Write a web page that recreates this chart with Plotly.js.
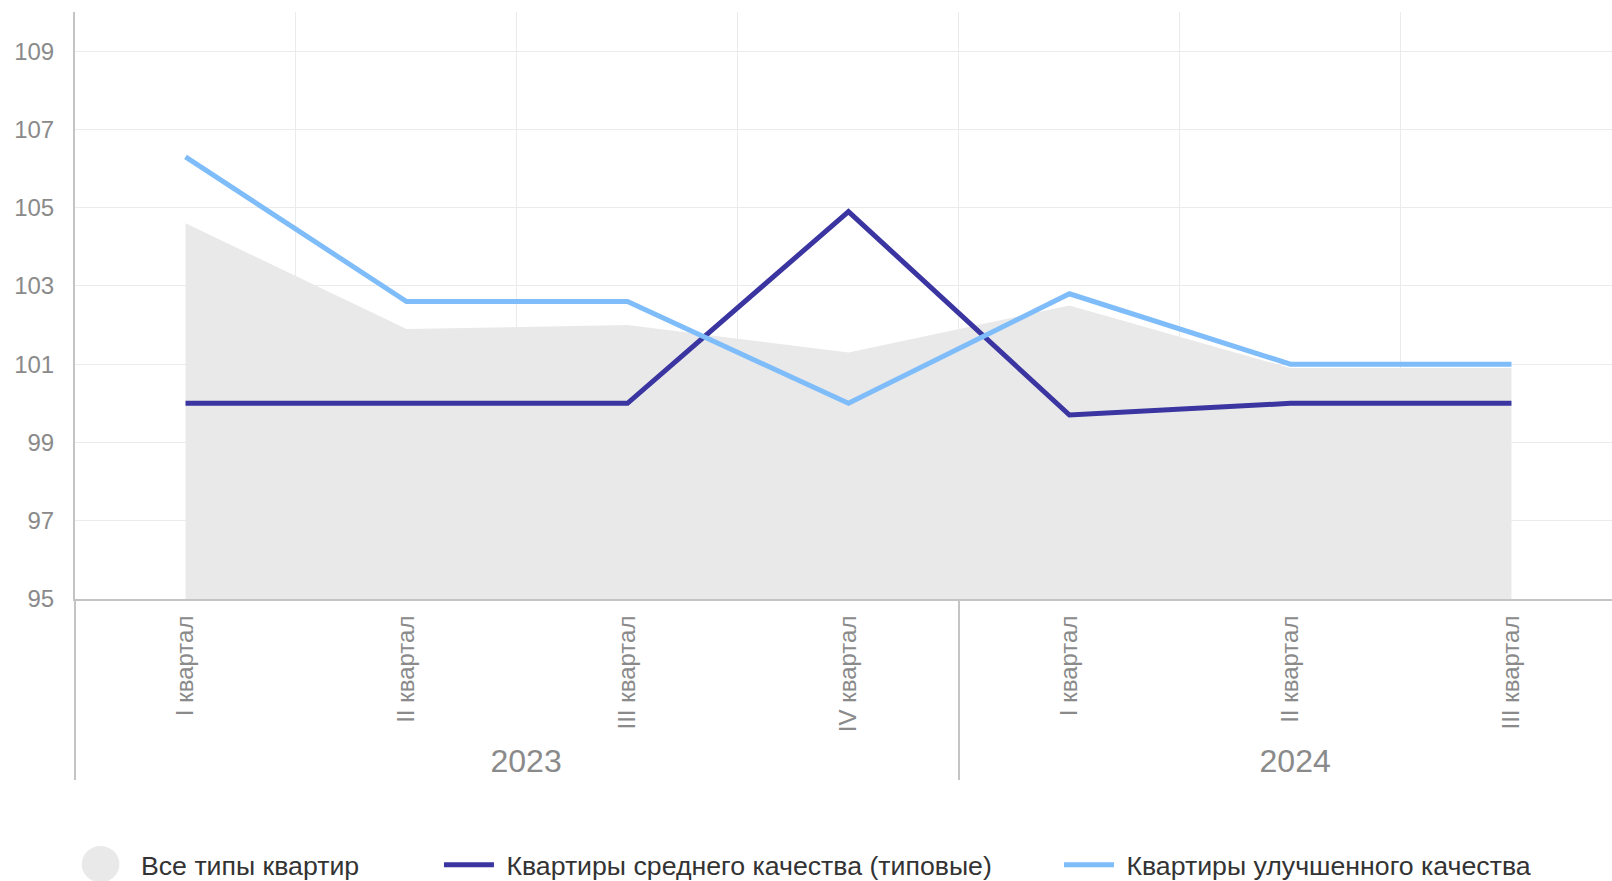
<!DOCTYPE html>
<html>
<head>
<meta charset="utf-8">
<script src="https://cdn.plot.ly/plotly-3.0.1.min.js"></script>
<style>
  html, body { margin: 0; padding: 0; background: #fff; }
  #chart { width: 1612px; height: 881px; }
</style>
</head>
<body>
<div id="chart"></div>
<script>
// Index, same quarter of previous year = 100
var years = ['2023', '2023', '2023', '2023', '2024', '2024', '2024'];
var quarters = ['I квартал', 'II квартал', 'III квартал', 'IV квартал', 'I квартал', 'II квартал', 'III квартал'];
var allTypes = [104.6, 101.9, 102.0, 101.3, 102.5, 100.9, 100.9];
var typical = [100.0, 100.0, 100.0, 104.9, 99.7, 100.0, 100.0];
var improved = [106.3, 102.6, 102.6, 100.0, 102.8, 101.0, 101.0];

var grey_area = '#e9e9e9'
var navy = '#3a35a0'
var light_blue = '#7fbcfa'
var font_family = 'Arial, "Liberation Sans", sans-serif'

// year labels are bigger than the quarter labels and sit a bit to the right
var year_pad = {'2023': 3, '2024': 2};
var year_labels = years.map(function (y) {
  return '<span style="font-size:32px">' + '\u00a0'.repeat(year_pad[y]) + y + '</span>'
});
var xcats = [year_labels, quarters];

var area = {
  x: xcats,
  y: allTypes,
  type: 'scatter',
  mode: 'none',
  fill: 'tozeroy',
  fillcolor: grey_area,
  showlegend: false,
  hoverinfo: 'skip'
};
// legend entry for the area, the round swatch is a shape below
var area_legend = {
  x: [null],
  y: [null],
  type: 'scatter',
  mode: 'markers',
  marker: {color: 'rgba(0,0,0,0)', size: 1},
  name: 'Все типы квартир',
  legend: 'legend'
};
var typical_line = {
  x: xcats,
  y: typical,
  type: 'scatter',
  mode: 'lines',
  line: {color: navy, width: 5},
  name: '\u00a0Квартиры среднего качества (типовые)',
  legend: 'legend2'
};
var improved_line = {
  x: xcats,
  y: improved,
  type: 'scatter',
  mode: 'lines',
  line: {color: light_blue, width: 5},
  name: '\u00a0Квартиры улучшенного качества',
  legend: 'legend3'
};

var data = [area, area_legend, typical_line, improved_line];

var legend_base = {
  orientation: 'h',
  xanchor: 'left',
  yanchor: 'middle',
  y: -0.453,
  itemwidth: 50,
  bgcolor: 'rgba(0,0,0,0)',
  font: {family: font_family, size: 26.7, color: '#333333'}
};

var layout = {
  width: 1612,
  height: 881,
  margin: {l: 75, r: 0, t: 12, b: 282, autoexpand: false},
  paper_bgcolor: '#ffffff',
  plot_bgcolor: '#ffffff',
  font: {family: font_family},
  showlegend: true,
  xaxis: {
    type: 'multicategory',
    automargin: false,
    range: [-0.5, 6.455],
    tickson: 'boundaries',
    showgrid: true,
    gridcolor: '#ebebeb',
    gridwidth: 1,
    showline: true,
    linecolor: '#c4c4c4',
    linewidth: 2,
    ticks: '',
    tickangle: -90,
    ticklabelstandoff: 5,
    tickfont: {family: font_family, size: 24, color: '#8a8a8a'},
    showdividers: true,
    dividercolor: '#c4c4c4',
    dividerwidth: 2,
    zeroline: false
  },
  yaxis: {
    automargin: false,
    range: [95, 110],
    tick0: 95,
    dtick: 2,
    showgrid: true,
    gridcolor: '#ebebeb',
    gridwidth: 1,
    showline: true,
    linecolor: '#c4c4c4',
    linewidth: 2,
    zeroline: false,
    ticks: '',
    ticklabelstandoff: 14,
    tickfont: {family: font_family, size: 24, color: '#8a8a8a'}
  },
  legend: Object.assign({}, legend_base, {x: 0.0169, itemwidth: 30}),
  legend2: Object.assign({}, legend_base, {x: 0.2368}),
  legend3: Object.assign({}, legend_base, {x: 0.6402}),
  shapes: [{
    type: 'circle',
    xref: 'paper',
    yref: 'paper',
    x0: 0.0044,
    x1: 0.0289,
    y0: -0.4828,
    y1: -0.4208,
    fillcolor: grey_area,
    line: {width: 0}
  }]
};

Plotly.newPlot('chart', data, layout, {displayModeBar: false, staticPlot: true});
</script>
</body>
</html>
